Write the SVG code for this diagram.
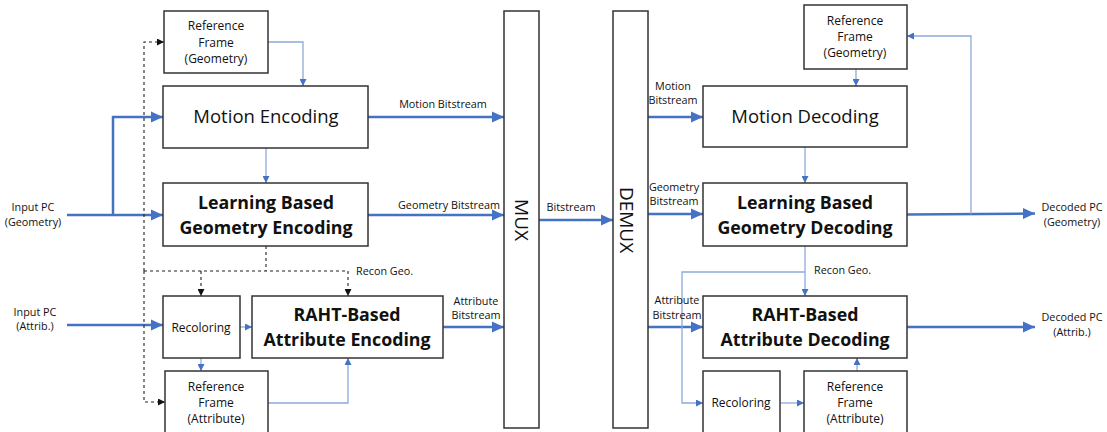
<svg xmlns="http://www.w3.org/2000/svg" width="1107" height="432" viewBox="0 0 1107 432">
<defs>
<style>
text{font-family:"Open Sans","Noto Sans",sans-serif;fill:#111;text-anchor:middle}
.box{fill:#fff;stroke:#333;stroke-width:1.5}
.big{font-size:18.5px}
.bold{font-size:17.8px;font-weight:700}
.sm{font-size:10.8px}
.bx{font-size:12px}
.thick{fill:none;stroke:#4472C4;stroke-width:2.5}
.thin{fill:none;stroke:#8EA9DB;stroke-width:1.3}
.dash{fill:none;stroke:#222;stroke-width:1.1;stroke-dasharray:3,3}
.mux{font-size:19px}
</style>
<marker id="ab" markerUnits="userSpaceOnUse" markerWidth="12" markerHeight="12" viewBox="0 0 12 12" refX="12" refY="6" orient="auto"><path d="M0,0.5 L12,6 L0,11.5 z" fill="#4472C4"/></marker>
<marker id="as" markerUnits="userSpaceOnUse" markerWidth="7" markerHeight="7" viewBox="0 0 7 7" refX="7" refY="3.5" orient="auto"><path d="M0,0 L7,3.5 L0,7 z" fill="#4472C4"/></marker>
<marker id="ad" markerUnits="userSpaceOnUse" markerWidth="7" markerHeight="7" viewBox="0 0 7 7" refX="7" refY="3.5" orient="auto"><path d="M0,0 L7,3.5 L0,7 z" fill="#111"/></marker>
</defs>

<g id="connectors">
<path class="thick" d="M67,215 H163" marker-end="url(#ab)"/>
<path class="thick" d="M113,215 V117 H163" marker-end="url(#ab)"/>
<path class="thick" d="M67,325 H163" marker-end="url(#ab)"/>
<path class="thick" d="M368,117 H504" marker-end="url(#ab)"/>
<path class="thick" d="M368,215 H504" marker-end="url(#ab)"/>
<path class="thick" d="M443,327 H504" marker-end="url(#ab)"/>
<path class="thick" d="M539,220 H613" marker-end="url(#ab)"/>
<path class="thin" d="M268,42 H303 V86" marker-end="url(#as)"/>
<path class="thin" d="M266,148 V183" marker-end="url(#as)"/>
<path class="thin" d="M240,327 H252" marker-end="url(#as)"/>
<path class="thin" d="M201,358 V371" marker-end="url(#as)"/>
<path class="thin" d="M268,403 H348 V358" marker-end="url(#as)"/>
<path class="dash" d="M266,246 V271"/>
<path class="dash" d="M144,271 H348 V296" marker-end="url(#ad)"/>
<path class="dash" d="M144,271 V42 H164" marker-end="url(#ad)"/>
<path class="dash" d="M144,271 V402 H165" marker-end="url(#ad)"/>
<path class="dash" d="M201,271 V296" marker-end="url(#ad)"/>
<path class="thick" d="M648,117 H703" marker-end="url(#ab)"/>
<path class="thick" d="M648,214 H703" marker-end="url(#ab)"/>
<path class="thick" d="M648,327 H703" marker-end="url(#ab)"/>
<path class="thick" d="M907,214.5 L1035,213.5" marker-end="url(#ab)"/>
<path class="thick" d="M907,327 H1035" marker-end="url(#ab)"/>
<path class="thin" d="M971,214 V36 H907" marker-end="url(#as)"/>
<path class="thin" d="M856,69 V86" marker-end="url(#as)"/>
<path class="thin" d="M805,147 V183" marker-end="url(#as)"/>
<path class="thin" d="M805,246 V296" marker-end="url(#as)"/>
<path class="thin" d="M805,272 H682 V403 H703" marker-end="url(#as)"/>
<path class="thin" d="M780,403 H804" marker-end="url(#as)"/>
<path class="thin" d="M857,371 V358" marker-end="url(#as)"/>
</g>

<g id="labels">
<text class="sm" x="33" y="211">Input PC</text>
<text class="sm" x="33" y="226">(Geometry)</text>
<text class="sm" x="35" y="316">Input PC</text>
<text class="sm" x="35" y="330">(Attrib.)</text>
<text class="sm" x="443" y="108">Motion Bitstream</text>
<text class="sm" x="449" y="209">Geometry Bitstream</text>
<text class="sm" x="356" y="275" style="text-anchor:start">Recon Geo.</text>
<text class="sm" x="476" y="305">Attribute</text>
<text class="sm" x="476" y="319">Bitstream</text>
<text class="sm" x="571" y="211">Bitstream</text>
<text class="sm" x="673" y="90">Motion</text>
<text class="sm" x="673" y="104">Bitstream</text>
<text class="sm" x="674" y="191">Geometry</text>
<text class="sm" x="674" y="205">Bitstream</text>
<text class="sm" x="677" y="304">Attribute</text>
<text class="sm" x="677" y="319">Bitstream</text>
<text class="sm" x="814" y="274" style="text-anchor:start">Recon Geo.</text>
<text class="sm" x="1072" y="211">Decoded PC</text>
<text class="sm" x="1072" y="226">(Geometry)</text>
<text class="sm" x="1072" y="321">Decoded PC</text>
<text class="sm" x="1072" y="336">(Attrib.)</text>
</g>

<g id="ref-geo-enc">
<rect class="box" x="164" y="11" width="104" height="62"/>
<text class="bx" x="216" y="30">Reference</text>
<text class="bx" x="216" y="47">Frame</text>
<text class="bx" x="216" y="63">(Geometry)</text>
</g>
<g id="motion-enc">
<rect class="box" x="163" y="86" width="205" height="62"/>
<text class="big" x="266" y="123">Motion Encoding</text>
</g>
<g id="geo-enc">
<rect class="box" x="163" y="183" width="205" height="63"/>
<text class="bold" x="266" y="209">Learning Based</text>
<text class="bold" x="266" y="234">Geometry Encoding</text>
</g>
<g id="recolor-enc">
<rect class="box" x="163" y="296" width="77" height="62"/>
<text class="bx" x="201" y="332">Recoloring</text>
</g>
<g id="attr-enc">
<rect class="box" x="252" y="296" width="191" height="62"/>
<text class="bold" x="347" y="321">RAHT-Based</text>
<text class="bold" x="347" y="346">Attribute Encoding</text>
</g>
<g id="ref-attr-enc">
<rect class="box" x="165" y="371" width="103" height="70"/>
<text class="bx" x="216" y="391">Reference</text>
<text class="bx" x="216" y="407">Frame</text>
<text class="bx" x="216" y="423">(Attribute)</text>
</g>
<g id="mux">
<rect class="box" x="504" y="11" width="35" height="417"/>
<text class="mux" transform="translate(522,220) rotate(90)" y="7">MUX</text>
</g>
<g id="demux">
<rect class="box" x="613" y="11" width="35" height="417"/>
<text class="mux" transform="translate(627,220) rotate(90)" y="7">DEMUX</text>
</g>
<g id="ref-geo-dec">
<rect class="box" x="804" y="5" width="103" height="64"/>
<text class="bx" x="855" y="25">Reference</text>
<text class="bx" x="855" y="41">Frame</text>
<text class="bx" x="855" y="57">(Geometry)</text>
</g>
<g id="motion-dec">
<rect class="box" x="703" y="86" width="204" height="61"/>
<text class="big" x="805" y="123">Motion Decoding</text>
</g>
<g id="geo-dec">
<rect class="box" x="703" y="183" width="204" height="63"/>
<text class="bold" x="805" y="209">Learning Based</text>
<text class="bold" x="805" y="234">Geometry Decoding</text>
</g>
<g id="attr-dec">
<rect class="box" x="703" y="296" width="204" height="62"/>
<text class="bold" x="805" y="321">RAHT-Based</text>
<text class="bold" x="805" y="346">Attribute Decoding</text>
</g>
<g id="recolor-dec">
<rect class="box" x="703" y="371" width="77" height="70"/>
<text class="bx" x="741" y="407">Recoloring</text>
</g>
<g id="ref-attr-dec">
<rect class="box" x="804" y="371" width="103" height="70"/>
<text class="bx" x="855" y="391">Reference</text>
<text class="bx" x="855" y="407">Frame</text>
<text class="bx" x="855" y="423">(Attribute)</text>
</g>
</svg>
